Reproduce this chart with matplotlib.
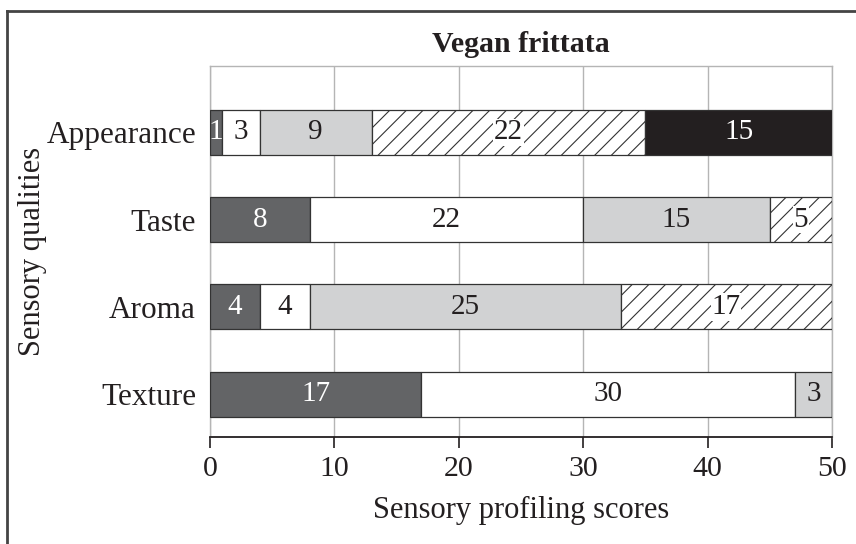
import numpy as np
from matplotlib import pyplot as plt
from matplotlib.lines import Line2D

# Data
qualities = ["Texture", "Aroma", "Taste", "Appearance"]
level1 = [17, 4, 8, 1]
level2 = [30, 4, 22, 3]
level3 = [3, 25, 15, 9]
level4 = [0, 17, 5, 22]
level5 = [0, 0, 0, 15]

seriesList = [level1, level2, level3, level4, level5]
faceColors = ["#636466", "#ffffff", "#d1d2d3", "#ffffff", "#231f20"]
hatches = [None, None, None, "//", None]
textColors = ["white", "#231f20", "#231f20", "#231f20", "white"]

plt.rcParams["font.family"] = ["Liberation Serif", "DejaVu Serif"]
plt.rcParams["hatch.linewidth"] = 0.8
plt.rcParams["hatch.color"] = "#231f20"

fig = plt.figure(figsize=(8.56, 5.44), dpi=100)
ax = fig.add_axes([210 / 856, 1 - 437 / 544, 622 / 856, 371 / 544])

ypos = np.arange(len(qualities))
left = np.zeros(len(qualities))
for vals, fc, hatch, tc in zip(seriesList, faceColors, hatches, textColors):
    vals = np.array(vals, dtype=float)
    bars = ax.barh(ypos, vals, left=left, height=0.515, color=fc, hatch=hatch,
                   edgecolor="#333333", linewidth=0.9, zorder=3)
    for b, v in zip(bars, vals):
        if v > 0:
            ax.text(b.get_x() + b.get_width() / 2, b.get_y() + b.get_height() / 2,
                    f"{int(v)}", ha="center", va="center", color=tc,
                    fontsize=21, zorder=4,
                    bbox=dict(facecolor="white", edgecolor="none", pad=0.5) if hatch else None)
    left += vals

ax.set_xlim(0, 50)
ax.set_ylim(-0.49, 3.76)
ax.set_xticks([0, 10, 20, 30, 40, 50])
ax.set_yticks(ypos)
ax.set_yticklabels(qualities)
ax.xaxis.grid(True, color="#b5b5b5", linewidth=1.0, zorder=0)
ax.set_axisbelow(True)

for side in ["top", "left", "right"]:
    ax.spines[side].set_color("#b5b5b5")
    ax.spines[side].set_linewidth(1.0)
ax.spines["bottom"].set_color("#231f20")
ax.spines["bottom"].set_linewidth(1.3)

ax.tick_params(axis="x", direction="out", length=8, width=1.2, color="#231f20",
               labelsize=21.5, labelcolor="#231f20", pad=6)
ax.tick_params(axis="y", length=0, labelsize=22.5, labelcolor="#231f20", pad=10)

ax.set_title("Vegan frittata", fontsize=21.5, fontweight="bold", color="#231f20", pad=10)
ax.set_xlabel("Sensory profiling scores", fontsize=22, color="#231f20", labelpad=10)
ax.set_ylabel("Sensory qualities", fontsize=22, color="#231f20", va="center")
ax.yaxis.set_label_coords(-0.286, 0.5)

# frame around the figure (only left and top edges are visible in the crop)
fig.add_artist(Line2D([7 / 856, 7 / 856], [0, 1 - 11 / 544], transform=fig.transFigure,
                      color="#444444", linewidth=2))
fig.add_artist(Line2D([7 / 856, 1], [1 - 11 / 544, 1 - 11 / 544], transform=fig.transFigure,
                      color="#444444", linewidth=2))

fig.savefig("out.png", dpi=100)
